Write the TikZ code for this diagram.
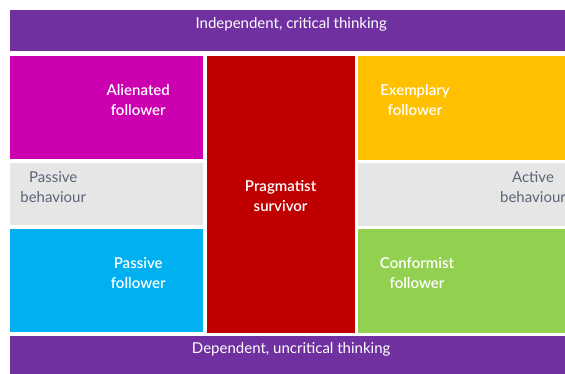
\documentclass[tikz,border=0pt]{standalone}
\usepackage{fontspec}
\setmainfont{Lato}
\newfontfamily\semibold{Lato Semibold}
\usetikzlibrary{positioning}

\definecolor{thinkpurple}{RGB}{112,48,160}
\definecolor{alienmag}{RGB}{204,0,176}
\definecolor{pragred}{RGB}{192,0,0}
\definecolor{exempyellow}{RGB}{255,192,0}
\definecolor{passblue}{RGB}{0,176,240}
\definecolor{confgreen}{RGB}{146,208,80}
\definecolor{behavgray}{RGB}{230,230,230}
\definecolor{behavtext}{RGB}{90,101,120}

\tikzset{
	field/.style={draw=none, inner sep=0pt, anchor=north west},
	whitetext/.style={text=white, align=center, font=\fontsize{15}{20}\selectfont\semibold},
	graytext/.style={text=behavtext, align=center, font=\fontsize{15}{20}\selectfont},
	bartext/.style={text=white, align=center, font=\fontsize{15}{20}\selectfont}
}

\begin{document}
\begin{tikzpicture}[x=1pt, y=-1pt]
				\useasboundingbox (0,0) rectangle (565,374);
				\clip (0,0) rectangle (565,374);
				
				\node[field, fill=thinkpurple, minimum width=562pt, minimum height=41pt] (indep) at (10,10) {};
				
				\node[field, fill=alienmag, minimum width=193pt, minimum height=103pt, below=4pt of indep.south west, anchor=north west] (alien) {};
				\node[field, fill=behavgray, minimum width=193pt, minimum height=62pt, below=4pt of alien.south west, anchor=north west] (passbeh) {};
				\node[field, fill=passblue, minimum width=193pt, minimum height=103pt, below=4pt of passbeh.south west, anchor=north west] (passfol) {};
				
				\node[field, fill=pragred, minimum width=148pt, minimum height=277pt, right=3pt of alien.north east, anchor=north west] (prag) {};
				
				\node[field, fill=exempyellow, minimum width=215pt, minimum height=104pt, right=3pt of prag.north east, anchor=north west] (exemp) {};
				\node[field, fill=behavgray, minimum width=215pt, minimum height=63pt, below=3pt of exemp.south west, anchor=north west] (actbeh) {};
				\node[field, fill=confgreen, minimum width=215pt, minimum height=104pt, below=3pt of actbeh.south west, anchor=north west] (conform) {};
				
				\node[field, fill=thinkpurple, minimum width=562pt, minimum height=45pt, below=3pt of passfol.south west, anchor=north west] (dep) {};
				
				% labels
				\node[bartext] (indeptext) at ([yshift=6.5pt]indep.center) {Independent, critical thinking};
				\node[bartext] (deptext) at ([yshift=8.5pt]dep.center) {Dependent, uncritical thinking};
				
				\node[whitetext] (alientext) at ([xshift=31.5pt, yshift=7.5pt]alien.center) {Alienated\\follower};
				\node[whitetext] (passfoltext) at ([xshift=31.5pt, yshift=7.5pt]passfol.center) {Passive\\follower};
				\node[whitetext] (pragtext) at ([yshift=-2pt]prag.center) {Pragmatist\\survivor};
				\node[whitetext] (exemptext) at ([xshift=-50.5pt, yshift=8pt]exemp.center) {Exemplary\\follower};
				\node[whitetext] (conformtext) at ([xshift=-48.5pt, yshift=8pt]conform.center) {Conformist\\follower};
				
				\node[graytext] (passbehtext) at ([xshift=-53.5pt, yshift=7pt]passbeh.center) {Passive\\behaviour};
				\node[graytext] (actbehtext) at ([xshift=67.5pt, yshift=7.5pt]actbeh.center) {Active\\behaviour};
\end{tikzpicture}
\end{document}
